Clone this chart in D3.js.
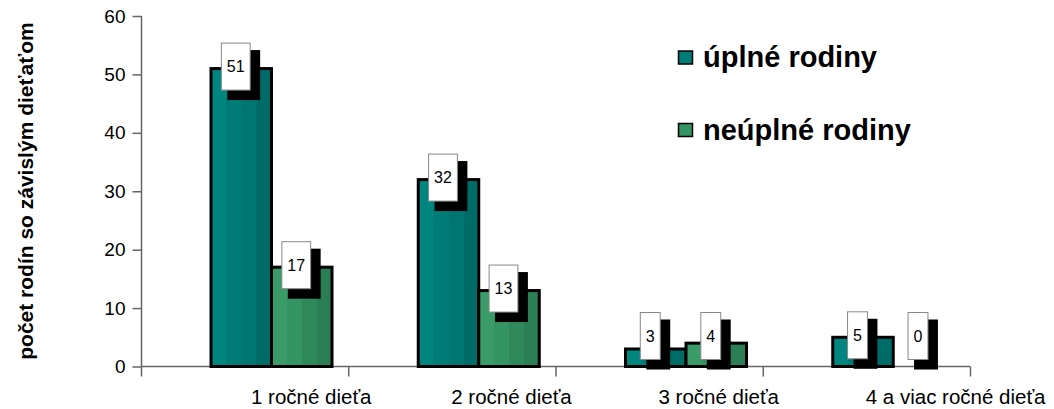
<!DOCTYPE html>
<html>
<head>
<meta charset="utf-8">
<script src="https://cdn.jsdelivr.net/npm/d3@7"></script>
<style>
  body { margin: 0; background: #fff; }
  svg text { font-family: "Liberation Sans", Arial, sans-serif; }
</style>
</head>
<body>
<svg id="chart" width="1054" height="409"></svg>
<script>
// data
const categories = ['1 ročné dieťa', '2 ročné dieťa', '3 ročné dieťa', '4 a viac ročné dieťa'];
const seriesNames = ['úplné rodiny', 'neúplné rodiny'];
const fullFamilies = [51, 32, 3, 5];
const singleParent = [17, 13, 4, 0];
const yTicks = [0, 10, 20, 30, 40, 50, 60];
const yTitle = 'počet rodín so závislým dieťaťom';

const svg = d3.select('#chart');

// stripe gradients (lighter on the left, darker on the right)
const stripes = {
  teal: ['#00857f', '#007c78', '#007571', '#006c68'],
  green: ['#3a9b69', '#359463', '#30895b', '#2c7e54']
};
const defs = svg.append('defs');
Object.entries(stripes).forEach(([name, cols]) => {
  const g = defs.append('linearGradient').attr('id', 'grad-' + name)
    .attr('x1', '0%').attr('x2', '100%').attr('y1', '0%').attr('y2', '0%');
  cols.forEach((c, i) => {
    g.append('stop').attr('offset', (i / cols.length * 100) + '%').attr('stop-color', c);
    g.append('stop').attr('offset', ((i + 1) / cols.length * 100) + '%').attr('stop-color', c);
  });
});
const fills = ['url(#grad-teal)', 'url(#grad-green)'];
const legendFills = ['#007c78', '#359463'];

// scales
const y = d3.scaleLinear().domain([0, 60]).range([366.5, 16]);
const x = d3.scaleBand().domain(categories).range([141, 970]).padding(0);
const xs = d3.scaleBand().domain(seriesNames).range([70, 191]).padding(0);

// y axis
const yAxis = d3.axisLeft(y).tickValues(yTicks).tickSize(9).tickPadding(7).tickSizeOuter(0);
const gy = svg.append('g').attr('transform', 'translate(141.5,0)').call(yAxis);
gy.select('.domain').remove();
gy.selectAll('line').attr('stroke', '#666').attr('stroke-width', 1.5);
gy.selectAll('text').attr('font-size', '19px').attr('fill', '#000')
  .style('font-family', '"Liberation Sans", Arial, sans-serif');

svg.append('line')
  .attr('x1', 141.5).attr('x2', 141.5).attr('y1', y(60)).attr('y2', y(0) + 10)
  .attr('stroke', '#666').attr('stroke-width', 1.5);

// x axis line and tick marks at category boundaries
svg.append('line')
  .attr('x1', 141).attr('x2', 970).attr('y1', y(0)).attr('y2', y(0))
  .attr('stroke', '#666').attr('stroke-width', 1.5);
const bounds = categories.map(c => x(c)).concat([x(categories[categories.length - 1]) + x.bandwidth()]);
svg.selectAll('.xtick').data(bounds.slice(1)).enter().append('line')
  .attr('class', 'xtick')
  .attr('x1', d => d + 0.5).attr('x2', d => d + 0.5)
  .attr('y1', y(0)).attr('y2', y(0) + 10)
  .attr('stroke', '#666').attr('stroke-width', 1.5);

// category labels
svg.selectAll('.xlabel').data(categories).enter().append('text')
  .attr('class', 'xlabel')
  .attr('x', (d, i) => x(d) + (i === 0 ? 110 : 103))
  .attr('y', 404)
  .attr('font-size', '20.5px')
  .text(d => d);

// y title
svg.append('text')
  .attr('transform', 'translate(33,191) rotate(-90)')
  .attr('text-anchor', 'middle')
  .attr('font-size', '21px')
  .attr('font-weight', 'bold')
  .text(yTitle);

// bars
const series = [fullFamilies, singleParent];
const barData = [];
series.forEach((vals, si) => {
  vals.forEach((v, ci) => barData.push({ cat: categories[ci], s: seriesNames[si], si, v }));
});

svg.selectAll('.bar').data(barData).enter().append('rect')
  .attr('class', 'bar')
  .attr('x', d => x(d.cat) + xs(d.s))
  .attr('y', d => y(d.v))
  .attr('width', xs.bandwidth())
  .attr('height', d => y(0) - y(d.v))
  .attr('fill', d => fills[d.si])
  .attr('stroke', '#000')
  .attr('stroke-width', 3);

// value labels: white box with a black drop shadow
const lab = svg.selectAll('.vlabel').data(barData).enter().append('g').attr('class', 'vlabel');
lab.each(function (d) {
  const g = d3.select(this);
  const cx = x(d.cat) + xs(d.s) + xs.bandwidth() / 2 - 5.5;
  const cy = Math.min(y(d.v) - 2, 336);
  const t = g.append('text').attr('font-size', '16px').text(d.v);
  const w = t.node().getComputedTextLength() + 11;
  const h = 47;
  t.remove();
  g.append('rect')
    .attr('x', cx - w / 2 + 6).attr('y', cy - h / 2 + 7)
    .attr('width', w + 4).attr('height', h + 3)
    .attr('fill', '#000');
  g.append('rect')
    .attr('x', cx - w / 2).attr('y', cy - h / 2)
    .attr('width', w).attr('height', h)
    .attr('fill', '#fff').attr('stroke', '#888').attr('stroke-width', 1);
  g.append('text')
    .attr('x', cx).attr('y', cy)
    .attr('text-anchor', 'middle').attr('dominant-baseline', 'central')
    .attr('font-size', '16px')
    .text(d.v);
});

// legend
const leg = svg.append('g');
seriesNames.forEach((name, i) => {
  const yy = 57 + i * 72.5;
  leg.append('rect')
    .attr('x', 678.5).attr('y', yy - 6).attr('width', 14).attr('height', 13)
    .attr('fill', legendFills[i]).attr('stroke', '#000').attr('stroke-width', 1.5);
  leg.append('text')
    .attr('x', 703).attr('y', yy + 10)
    .attr('font-size', '29px').attr('font-weight', 'bold')
    .text(name);
});
</script>
</body>
</html>
